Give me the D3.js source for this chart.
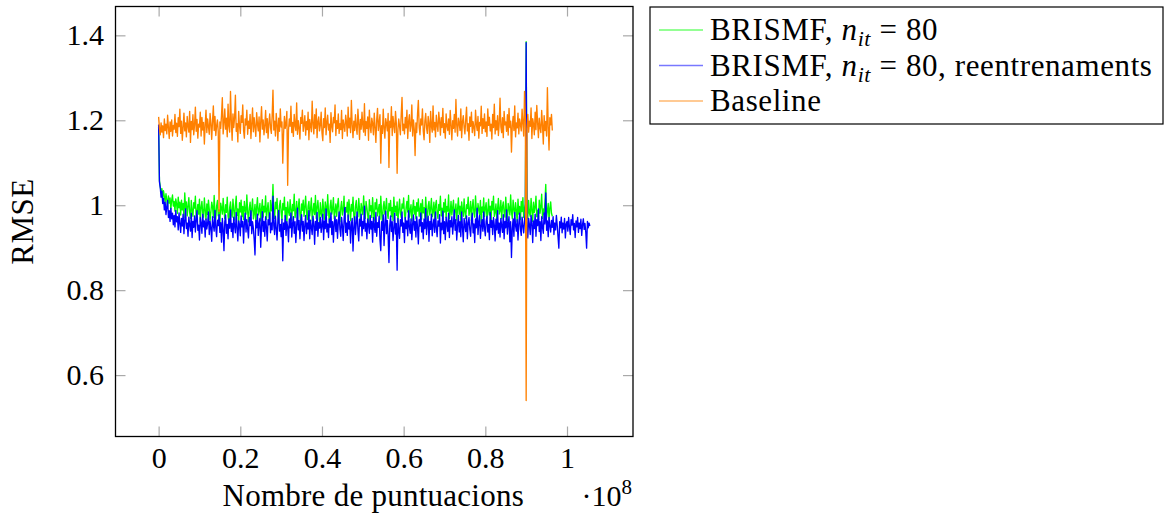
<!DOCTYPE html>
<html>
<head>
<meta charset="utf-8">
<script src="https://cdn.jsdelivr.net/npm/d3@7"></script>
<style>
  html, body { margin: 0; padding: 0; background: #fff; }
  svg { display: block; }
</style>
</head>
<body>
<svg id="chart" width="1170" height="516"></svg>
<script>
// ---------------- data ----------------
// x step between consecutive measurements, in units of 10^8 ratings
const X_STEP = 0.002;

const xTicks = [0, 0.2, 0.4, 0.6, 0.8, 1];
const yTicks = [0.6, 0.8, 1.0, 1.2, 1.4];
const xTickLabels = ["0", "0.2", "0.4", "0.6", "0.8", "1"];
const yTickLabels = ["0.6", "0.8", "1", "1.2", "1.4"];

const seriesNames = ["BRISMF, n_it = 80", "BRISMF, n_it = 80, reentrenaments", "Baseline"];
const seriesColors = ["#00ff00", "#0000ff", "#ff8000"];
const legendColors = ["#70ff70", "#7878ff", "#ffb870"];

// BRISMF, n_it = 80
const brismf = [
1.185,1.058,1.044,1.031,1.039,1.016,1.034,1.021,1.008,1.027,1.013,0.996,1.022,1.005,1.017,0.991,1.012,1.024,0.998,1.009,
0.986,1.015,1.003,0.981,1.019,0.994,1.007,0.977,1.012,0.989,1.004,0.971,1.029,0.992,1.008,0.975,0.997,1.018,0.983,0.969,
1.011,0.987,0.974,1.006,0.993,1.021,0.968,0.985,1.002,0.979,1.014,0.961,0.995,1.009,0.982,0.972,1.017,0.988,0.966,1.003,
0.978,1.012,0.991,0.963,0.984,1.007,0.996,0.971,1.023,0.982,0.967,0.998,1.011,0.975,0.989,0.958,1.005,0.993,0.979,1.016,
0.986,0.969,1.001,0.983,1.019,0.974,0.962,0.995,1.008,0.981,0.972,1.014,0.988,0.965,0.999,1.021,0.976,0.991,0.957,1.006,
0.984,1.012,0.973,0.997,0.966,1.009,0.988,0.979,1.024,0.985,0.961,0.993,1.007,0.976,0.989,1.015,0.968,0.981,1.002,0.959,
0.995,1.018,0.977,0.986,1.004,0.963,0.991,1.013,0.972,0.998,0.984,1.022,0.967,0.989,1.006,0.975,0.962,1.011,0.987,0.996,
1.049,0.981,0.969,1.007,0.992,1.016,0.974,0.958,0.999,1.011,0.983,0.966,1.004,0.989,1.019,0.972,0.995,0.961,1.008,0.985,
0.976,1.013,0.991,0.964,1.002,0.987,1.026,0.971,0.983,1.009,0.968,0.994,1.015,0.979,0.957,1.003,0.988,1.012,0.974,0.996,
1.021,0.982,0.966,0.998,1.009,0.975,0.991,1.017,0.963,0.986,1.004,0.978,1.023,0.969,0.993,1.011,0.984,0.959,1.006,0.981,
0.972,1.014,0.989,0.967,1.008,0.995,0.976,1.025,0.984,0.962,0.997,1.012,0.979,0.991,1.018,0.968,0.986,1.003,0.974,0.999,
1.016,0.983,0.961,0.994,1.009,0.977,0.988,1.021,0.969,0.995,0.984,1.007,0.972,1.013,0.991,0.964,1.002,0.986,1.019,0.975,
0.962,0.998,1.011,0.983,0.973,1.016,0.989,0.966,1.004,0.992,0.978,1.022,0.985,0.969,1.009,0.994,0.976,0.956,1.013,0.987,
0.999,0.971,1.018,0.984,0.963,1.006,0.991,1.014,0.975,0.988,1.002,0.967,1.021,0.983,0.958,0.996,1.009,0.979,0.992,1.016,
0.981,0.969,1.004,0.987,1.011,0.973,0.995,0.964,1.019,0.984,0.998,0.976,1.008,0.961,0.989,1.014,0.982,0.971,1.003,0.993,
1.017,0.978,0.966,0.995,1.009,0.984,1.023,0.972,0.988,1.001,0.963,0.991,1.012,0.979,0.997,0.968,1.006,0.986,1.015,0.974,
0.989,1.004,0.967,1.013,0.982,0.994,0.971,1.019,0.986,0.962,0.998,1.009,0.977,0.992,1.016,0.973,0.985,1.007,0.966,0.999,
1.011,0.981,0.969,1.002,0.988,1.021,0.975,0.993,0.958,1.006,0.984,1.014,0.971,0.997,0.986,1.024,0.968,0.982,1.009,0.977,
0.994,1.012,0.972,0.986,1.003,0.965,0.991,1.017,0.979,0.998,0.962,1.008,0.989,0.974,1.015,0.983,0.969,1.001,0.992,1.019,
0.976,0.987,1.009,0.964,0.995,1.013,0.981,0.972,1.022,0.988,0.967,1.004,0.991,0.978,1.011,0.959,0.996,0.984,1.017,0.973,
0.993,1.006,0.969,0.985,1.014,0.977,0.998,0.962,1.009,0.989,1.021,0.974,0.983,1.003,0.966,0.992,1.016,0.979,0.987,1.011,
0.968,0.996,1.008,0.981,0.972,1.019,0.986,0.963,1.004,0.993,0.977,1.024,0.984,0.969,1.012,0.991,0.975,1.006,0.988,0.961,
1.014,0.979,0.997,0.966,1.009,0.985,1.018,0.971,0.992,1.003,1.385,0.986,0.968,1.011,0.981,0.974,1.016,0.989,0.962,1.007,
0.983,0.995,1.021,0.973,0.988,0.964,1.012,0.981,0.997,1.026,0.969,0.991,0.978,1.009,1.049,0.972,0.986,1.004,0.965,0.993,
1.008,0.981,0.974
];

// BRISMF, n_it = 80, reentrenaments
const brismfRetrain = [
1.190,1.055,1.041,1.019,1.033,1.004,1.016,0.989,1.007,0.978,0.996,1.011,0.971,0.987,0.962,0.993,0.968,0.981,0.954,0.976,
0.949,0.988,0.961,0.973,0.942,0.982,0.957,0.936,0.969,0.951,0.979,0.933,0.964,0.991,0.945,0.958,0.927,0.972,0.953,0.939,
0.981,0.924,0.962,0.948,0.975,0.937,0.966,0.987,0.941,0.953,0.918,0.971,0.958,0.934,0.979,0.949,0.963,0.925,0.968,0.944,
0.957,0.984,0.931,0.962,0.946,0.915,0.973,0.954,0.939,0.988,0.947,0.926,0.965,0.952,0.978,0.936,0.959,0.913,0.969,0.943,
0.893,0.961,0.977,0.934,0.955,0.921,0.968,0.946,0.989,0.938,0.957,0.924,0.972,0.951,0.935,0.983,0.947,0.916,0.963,0.954,
0.928,0.975,0.949,0.962,0.911,0.958,0.981,0.937,0.966,0.944,0.923,0.971,0.952,0.987,0.933,0.961,0.946,0.919,0.883,0.964,
0.947,0.979,0.929,0.956,0.969,0.901,0.951,0.985,0.938,0.962,0.927,0.973,0.948,0.916,0.966,0.954,0.982,0.935,0.958,0.942,
1.021,0.952,0.931,0.974,0.946,0.918,0.963,0.988,0.939,0.955,0.926,0.967,0.869,0.958,0.943,0.976,0.929,0.961,0.949,0.914,
0.968,0.947,0.982,0.925,0.956,0.973,0.934,0.961,0.912,0.951,0.993,0.942,0.964,0.921,0.957,0.978,0.939,0.962,0.917,0.953,
0.976,0.933,0.958,0.944,0.987,0.921,0.965,0.949,0.931,0.974,0.955,0.908,0.962,0.941,0.983,0.927,0.959,0.946,0.971,0.936,
0.952,0.979,0.919,0.963,0.945,0.991,0.937,0.956,0.924,0.968,0.948,0.982,0.931,0.961,0.913,0.957,0.974,0.938,0.966,0.922,
0.959,0.984,0.943,0.927,0.971,0.952,0.917,0.964,0.995,0.936,0.958,0.929,0.977,0.944,0.962,0.911,0.953,0.969,0.892,0.948,
0.973,0.931,0.958,0.984,0.942,0.916,0.967,0.951,0.979,0.928,0.962,0.945,0.998,0.939,0.957,0.921,0.968,0.953,0.934,0.976,
0.944,0.962,0.913,0.971,0.952,0.936,0.983,0.927,0.959,0.948,0.974,0.919,0.893,0.961,0.941,0.977,0.905,0.955,0.986,0.933,
0.964,0.929,0.865,0.952,0.975,0.938,0.961,0.917,0.946,0.981,0.932,0.957,0.847,0.969,0.943,0.922,0.966,0.951,0.984,0.936,
0.958,0.912,0.971,0.945,0.963,0.928,0.987,0.949,0.934,0.968,0.919,0.956,0.977,0.941,0.962,0.925,0.973,0.948,0.909,0.966,
0.951,0.982,0.937,0.959,0.921,0.968,0.945,0.992,0.931,0.957,0.974,0.915,0.962,0.943,0.979,0.928,0.954,0.967,0.936,0.984,
0.947,0.926,0.963,0.951,0.978,0.911,0.958,0.942,0.986,0.933,0.961,0.919,0.972,0.955,0.938,0.981,0.924,0.964,0.949,0.973,
0.932,0.957,0.989,0.941,0.966,0.918,0.953,0.976,0.937,0.961,0.926,0.984,0.948,0.914,0.969,0.952,0.938,0.975,0.921,0.958,
0.971,0.943,0.927,0.964,0.981,0.935,0.956,0.912,0.968,0.947,0.993,0.931,0.959,0.976,0.922,0.951,0.966,0.939,0.984,0.946,
0.928,0.962,0.974,0.937,0.955,0.919,0.983,0.948,0.964,0.931,0.971,0.953,0.916,0.967,0.942,0.987,0.934,0.958,0.925,0.969,
0.951,0.936,0.978,0.921,0.962,0.947,0.989,0.932,0.956,0.973,0.914,0.961,0.877,0.944,0.968,0.927,0.983,0.952,0.939,0.966,
0.918,0.957,0.981,0.943,0.929,0.972,0.951,0.935,0.964,0.986,1.383,0.947,0.923,0.969,0.954,0.931,0.976,0.958,0.912,0.963,
0.945,0.979,0.927,0.966,0.952,0.991,0.938,0.961,0.917,0.973,0.948,0.934,0.982,0.956,1.029,0.941,0.963,0.926,0.971,0.952,
0.937,0.964,0.948,0.973,0.931,0.958,0.942,0.976,0.953,0.926,0.899,0.961,0.947,0.972,0.935,0.958,0.944,0.969,0.923,0.956,
0.962,0.939,0.971,0.948,0.931,0.966,0.953,0.978,0.942,0.957,0.924,0.963,0.949,0.971,0.936,0.958,0.945,0.967,0.929,0.954,
0.968,0.943,0.957,0.936,0.899,0.962,0.947,0.958,0.951
];

// Baseline
const baseline = [
1.208,1.181,1.166,1.194,1.172,1.187,1.159,1.203,1.176,1.191,1.168,1.212,1.183,1.157,1.196,1.174,1.201,1.163,1.188,1.179,
1.214,1.171,1.193,1.162,1.206,1.185,1.226,1.169,1.198,1.153,1.182,1.217,1.175,1.194,1.161,1.209,1.186,1.172,1.221,1.148,
1.197,1.178,1.213,1.166,1.189,1.231,1.174,1.202,1.158,1.191,1.184,1.219,1.163,1.207,1.177,1.195,1.144,1.188,1.224,1.171,
1.203,1.185,1.167,1.216,1.192,1.155,1.198,1.234,1.176,1.209,1.164,1.187,1.201,1.173,0.985,1.196,1.181,1.212,1.253,1.168,
1.194,1.227,1.179,1.205,1.161,1.238,1.186,1.172,1.268,1.199,1.153,1.215,1.183,1.206,1.259,1.174,1.192,1.149,1.221,1.187,
1.169,1.211,1.195,1.236,1.176,1.158,1.203,1.189,1.224,1.167,1.198,1.181,1.214,1.157,1.192,1.229,1.173,1.206,1.184,1.162,
1.218,1.191,1.175,1.208,1.149,1.196,1.232,1.179,1.201,1.166,1.187,1.223,1.171,1.204,1.158,1.193,1.215,1.182,1.169,1.211,
1.271,1.177,1.198,1.163,1.216,1.189,1.152,1.205,1.174,1.227,1.184,1.196,1.099,1.168,1.209,1.181,1.192,1.221,1.047,1.176,
1.203,1.186,1.233,1.171,1.195,1.162,1.214,1.188,1.176,1.241,1.167,1.199,1.182,1.156,1.207,1.193,1.224,1.174,1.189,1.211,
1.165,1.197,1.178,1.219,1.154,1.202,1.186,1.173,1.245,1.191,1.168,1.213,1.181,1.227,1.159,1.196,1.208,1.175,1.188,1.219,
1.171,1.152,1.204,1.183,1.229,1.166,1.195,1.212,1.177,1.191,1.148,1.218,1.186,1.173,1.207,1.194,1.236,1.164,1.199,1.181,
1.215,1.169,1.192,1.178,1.223,1.157,1.201,1.187,1.174,1.212,1.196,1.163,1.231,1.182,1.205,1.171,1.247,1.189,1.159,1.198,
1.176,1.213,1.184,1.167,1.226,1.193,1.155,1.202,1.179,1.219,1.188,1.172,1.239,1.164,1.197,1.181,1.208,1.153,1.224,1.186,
1.171,1.205,1.192,1.166,1.217,1.183,1.148,1.201,1.228,1.176,1.194,1.213,1.099,1.187,1.169,1.226,1.181,1.158,1.204,1.192,
1.175,1.216,1.089,1.198,1.183,1.232,1.164,1.209,1.187,1.171,1.221,1.194,1.075,1.178,1.203,1.185,1.166,1.213,1.254,1.176,
1.191,1.168,1.207,1.182,1.224,1.157,1.196,1.213,1.174,1.188,1.236,1.163,1.201,1.179,1.117,1.194,1.171,1.215,1.247,1.184,
1.166,1.203,1.189,1.227,1.175,1.154,1.198,1.216,1.182,1.169,1.209,1.193,1.148,1.221,1.186,1.172,1.234,1.177,1.195,1.161,
1.212,1.188,1.174,1.219,1.197,1.165,1.206,1.183,1.228,1.171,1.192,1.158,1.215,1.186,1.176,1.203,1.167,1.223,1.189,1.154,
1.199,1.181,1.214,1.172,1.249,1.187,1.163,1.205,1.193,1.176,1.227,1.159,1.196,1.211,1.184,1.168,1.202,1.231,1.175,1.192,
1.153,1.208,1.186,1.219,1.171,1.197,1.182,1.164,1.224,1.191,1.176,1.209,1.158,1.195,1.187,1.233,1.169,1.204,1.181,1.215,
1.173,1.196,1.162,1.227,1.188,1.207,1.175,1.191,1.156,1.214,1.183,1.238,1.168,1.199,1.177,1.211,1.164,1.192,1.252,1.185,
1.171,1.206,1.159,1.221,1.189,1.196,1.174,1.213,1.165,1.228,1.183,1.198,1.125,1.187,1.209,1.176,1.234,1.161,1.194,1.182,
1.217,1.168,1.203,1.189,1.175,1.226,1.192,1.163,1.268,1.207,0.540,1.181,1.214,1.172,1.198,1.186,1.229,1.157,1.204,1.191,
1.166,1.219,1.178,1.235,1.194,1.159,1.205,1.182,1.171,1.223,1.188,1.144,1.211,1.176,1.197,1.163,1.277,1.184,1.130,1.206,
1.189,1.214,1.176
];

const allSeries = [brismf, brismfRetrain, baseline];

// ---------------- layout ----------------
const FONT_FAMILY = '"Liberation Serif", "DejaVu Serif", serif';
const svg = d3.select("#chart").attr("font-family", FONT_FAMILY);
const plot = { left: 115.5, right: 633, top: 6.5, bottom: 436.5 };
const FONT = 30;
const FONT_TEXT = 31;

const x = d3.scaleLinear().domain([-0.1056, 1.1616]).range([plot.left, plot.right]);
const y = d3.scaleLinear().domain([0.4554, 1.4679]).range([plot.bottom, plot.top]);

svg.append("rect").attr("width", 1170).attr("height", 516).attr("fill", "#fff");

const TICK_COLOR = "#a9a9a9";
function styleAxis(g) {
  g.attr("font-family", FONT_FAMILY).attr("font-size", FONT);
  g.select(".domain").remove();
  g.selectAll(".tick line").attr("stroke", TICK_COLOR).attr("stroke-width", 1.2);
  g.selectAll("text").attr("fill", "#000");
}

// bottom axis with labels
const gx = svg.append("g").attr("transform", `translate(0,${plot.bottom})`)
  .call(d3.axisBottom(x).tickValues(xTicks).tickSize(-10).tickFormat((d, i) => xTickLabels[i]));
styleAxis(gx);
gx.selectAll("text").attr("y", 31.5).attr("dy", null);

// top mirrored ticks
const gxt = svg.append("g").attr("transform", `translate(0,${plot.top})`)
  .call(d3.axisTop(x).tickValues(xTicks).tickSize(-10).tickFormat(""));
styleAxis(gxt);

// left axis with labels
const gy = svg.append("g").attr("transform", `translate(${plot.left},0)`)
  .call(d3.axisLeft(y).tickValues(yTicks).tickSize(-10).tickFormat((d, i) => yTickLabels[i]));
styleAxis(gy);
gy.selectAll("text").attr("x", -11.5).attr("dy", "0.32em");

// right mirrored ticks
const gyr = svg.append("g").attr("transform", `translate(${plot.right},0)`)
  .call(d3.axisRight(y).tickValues(yTicks).tickSize(-10).tickFormat(""));
styleAxis(gyr);

// series lines
const line = d3.line().x((d, i) => x(i * X_STEP)).y(d => y(d));
svg.append("defs").append("clipPath").attr("id", "clip")
  .append("rect").attr("x", plot.left).attr("y", plot.top)
  .attr("width", plot.right - plot.left).attr("height", plot.bottom - plot.top);
const gLines = svg.append("g").attr("clip-path", "url(#clip)");
allSeries.forEach((s, k) => {
  gLines.append("path").datum(s)
    .attr("d", line)
    .attr("fill", "none")
    .attr("stroke", seriesColors[k])
    .attr("stroke-width", 1.35)
    .attr("stroke-linejoin", "round");
});

// border
svg.append("rect")
  .attr("x", plot.left).attr("y", plot.top)
  .attr("width", plot.right - plot.left).attr("height", plot.bottom - plot.top)
  .attr("fill", "none").attr("stroke", "#000").attr("stroke-width", 1.3);

// axis titles
svg.append("text").attr("x", (plot.left + plot.right) / 2 - 1).attr("y", 506)
  .attr("text-anchor", "middle").attr("font-size", FONT_TEXT).attr("letter-spacing", 0.25)
  .text("Nombre de puntuacions");

const sci = svg.append("text").attr("x", 632).attr("y", 506)
  .attr("text-anchor", "end").attr("font-size", FONT);
sci.append("tspan").text("\u00B710");
sci.append("tspan").attr("dy", -12).attr("font-size", 21).text("8");

svg.append("text")
  .attr("transform", `translate(33,${(plot.top + plot.bottom) / 2}) rotate(-90)`)
  .attr("text-anchor", "middle").attr("font-size", FONT_TEXT).attr("letter-spacing", 0.5)
  .text("RMSE");

// legend
const legend = svg.append("g");
legend.append("rect").attr("x", 650).attr("y", 7).attr("width", 513).attr("height", 117)
  .attr("fill", "#fff").attr("stroke", "#000").attr("stroke-width", 1.2);
const rowsY = [30, 65.5, 101];
seriesNames.forEach((name, k) => {
  legend.append("line")
    .attr("x1", 659).attr("x2", 703).attr("y1", rowsY[k]).attr("y2", rowsY[k])
    .attr("stroke", legendColors[k]).attr("stroke-width", 1.3);
  const t = legend.append("text").attr("x", 710).attr("y", rowsY[k] + 10)
    .attr("font-size", FONT_TEXT).attr("letter-spacing", 0.6);
  if (name.indexOf("n_it") >= 0) {
    const parts = name.split("n_it");
    t.append("tspan").text(parts[0]);
    t.append("tspan").attr("font-style", "italic").text("n");
    t.append("tspan").attr("font-style", "italic").attr("font-size", 22).attr("dy", 6).text("it");
    t.append("tspan").attr("dy", -6).text(parts[1]);
  } else {
    t.text(name);
  }
});
</script>
</body>
</html>
